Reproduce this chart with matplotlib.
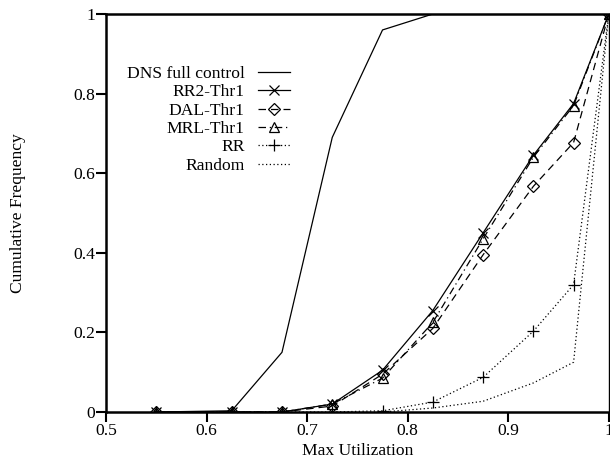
import matplotlib
matplotlib.use('Agg')
import matplotlib.pyplot as plt

plt.rcParams['font.family'] = ['Liberation Serif', 'DejaVu Serif']

# utilisation bins
x = [0.55, 0.625, 0.675, 0.725, 0.775, 0.825, 0.875, 0.925, 0.965, 1.0]

dns_x = [0.55, 0.625, 0.675, 0.725, 0.775, 0.825, 1.0]
dns_y = [0.0, 0.003, 0.15, 0.69, 0.96, 1.0, 1.0]

rr2 = [0.0, 0.0, 0.0, 0.02, 0.105, 0.255, 0.45, 0.645, 0.775, 1.0]
dal = [0.0, 0.0, 0.0, 0.015, 0.095, 0.21, 0.395, 0.567, 0.677, 1.0]
mrl = [0.0, 0.0, 0.0, 0.02, 0.085, 0.225, 0.435, 0.64, 0.77, 1.0]
rr = [0.0, 0.0, 0.0, 0.0, 0.003, 0.025, 0.087, 0.203, 0.32, 1.0]

rnd_x = [0.775, 0.825, 0.875, 0.925, 0.965, 1.0]
rnd_y = [0.0, 0.01, 0.027, 0.073, 0.125, 1.0]

FS = 12.6

fig = plt.figure(figsize=(6.1, 4.61), dpi=100)
ax = fig.add_axes([0.1738, 0.1063, 0.8242, 0.8633])

lw = 0.9
ax.plot(dns_x, dns_y, color='black', lw=lw, label='DNS full control')
ax.plot(x, rr2, color='black', lw=lw, marker='x', ms=7.5, mew=0.9,
        label='RR2-Thr1')
ax.plot(x, dal, color='black', lw=lw, ls=(0, (6, 4)), marker='D', ms=6,
        mew=0.9, fillstyle='none', label='DAL-Thr1')
ax.plot(x, mrl, color='black', lw=lw, ls=(0, (6, 3, 1, 3)), marker='^', ms=7.5,
        mew=0.9, fillstyle='none', label='MRL-Thr1')
ax.plot(x, rr, color='black', lw=lw, ls=(0, (1, 2)), marker='+', ms=8,
        mew=0.9, label='RR')
ax.plot(rnd_x, rnd_y, color='black', lw=lw, ls=(0, (1, 2)), label='Random')

ax.set_xlim(0.5, 1.0)
ax.set_ylim(0, 1)
ax.set_xticks([0.5, 0.6, 0.7, 0.8, 0.9, 1.0])
ax.set_xticklabels(['0.5', '0.6', '0.7', '0.8', '0.9', '1'])
ax.set_yticks([0, 0.2, 0.4, 0.6, 0.8, 1.0])
ax.set_yticklabels(['0', '0.2', '0.4', '0.6', '0.8', '1'])
ax.tick_params(direction='out', length=7, width=1.5, labelsize=FS, pad=1)

for side in ['left', 'bottom', 'top']:
    ax.spines[side].set_linewidth(1.8)
ax.spines['right'].set_linewidth(1.0)

ax.set_xlabel('Max Utilization', fontsize=FS, labelpad=3)
ax.set_ylabel('Cumulative Frequency', fontsize=FS)
ax.yaxis.set_label_coords(-0.160, 0.5)

leg = ax.legend(loc='upper right', bbox_to_anchor=(0.366, 0.870), frameon=False,
                markerfirst=False, fontsize=FS, handlelength=1.85,
                labelspacing=0.12, handletextpad=0.75, numpoints=1,
                borderpad=0, borderaxespad=0)
for t in leg.get_texts():
    t.set_ha('right')
leg._legend_box.align = 'right'

fig.savefig('out.png', dpi=100)
